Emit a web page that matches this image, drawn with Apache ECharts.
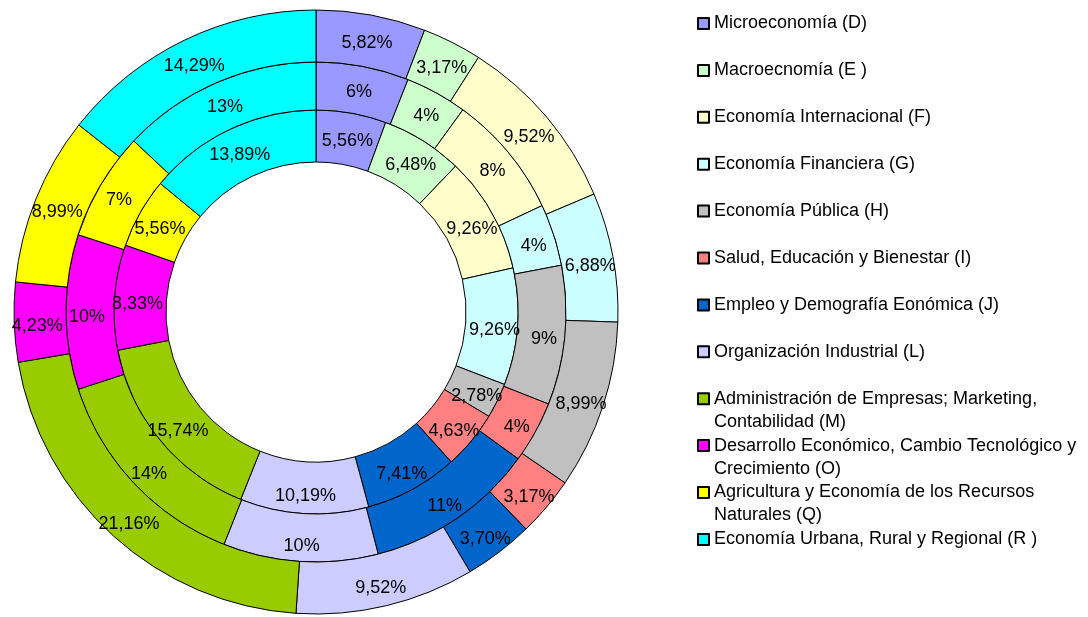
<!DOCTYPE html>
<html>
<head>
<meta charset="utf-8">
<script src="https://cdn.jsdelivr.net/npm/echarts@6/dist/echarts.min.js"></script>
<style>
  html, body { margin: 0; padding: 0; background: #fff; }
  #chart { width: 1088px; height: 617px; }
</style>
</head>
<body>
<div id="chart"></div>
<script>
// categorias (orden de las porciones, en sentido horario desde arriba)
const categories = [
  'Microeconomía (D)',
  'Macroecnomía (E )',
  'Economía Internacional (F)',
  'Economía Financiera (G)',
  'Economía Pública (H)',
  'Salud, Educación y Bienestar (I)',
  'Empleo y Demografía Eonómica (J)',
  'Organización Industrial (L)',
  'Administración de Empresas; Marketing, Contabilidad (M)',
  'Desarrollo Económico, Cambio Tecnológico y Crecimiento (O)',
  'Agricultura y Economía de los Recursos Naturales (Q)',
  'Economía Urbana, Rural y Regional (R )'
];
// texto de la leyenda: primera y segunda linea
const legendLine1 = [
  'Microeconomía (D)',
  'Macroecnomía (E )',
  'Economía Internacional (F)',
  'Economía Financiera (G)',
  'Economía Pública (H)',
  'Salud, Educación y Bienestar (I)',
  'Empleo y Demografía Eonómica (J)',
  'Organización Industrial (L)',
  'Administración de Empresas; Marketing,',
  'Desarrollo Económico, Cambio Tecnológico y',
  'Agricultura y Economía de los Recursos',
  'Economía Urbana, Rural y Regional (R )'
];
const legendLine2 = ['', '', '', '', '', '', '', '',
  'Contabilidad (M)', 'Crecimiento (O)', 'Naturales (Q)', ''];

const innerValues  = [5.56, 6.48, 9.26, 9.26, 2.78, 4.63, 7.41, 10.19, 15.74, 8.33, 5.56, 13.89];
const middleValues = [6, 4, 8, 4, 9, 4, 11, 10, 14, 10, 7, 13];
const outerValues  = [5.82, 3.17, 9.52, 6.88, 8.99, 3.17, 3.70, 9.52, 21.16, 4.23, 8.99, 14.29];
const colors = ['#9999FF', '#CCFFCC', '#FFFFCC', '#CCFFFF', '#C0C0C0', '#FF8080',
                '#0066CC', '#CCCCFF', '#99CC00', '#FF00FF', '#FFFF00', '#00FFFF'];

const FONT = '"Liberation Sans", Arial, sans-serif';
const LEG_Y0 = 22, LEG_STEP = 46.9;

function ring(values, radius, decimals) {
  return {
    type: 'pie',
    center: [316, 312],
    radius: radius,
    startAngle: 90,
    clockwise: true,
    silent: true,
    itemStyle: { borderColor: '#000', borderWidth: 1 },
    label: {
      show: true,
      position: 'inside',
      offset: [0, 5],
      color: '#000',
      fontFamily: FONT,
      fontSize: 18,
      formatter: p => p.value.toFixed(decimals).replace('.', ',') + '%'
    },
    labelLine: { show: false },
    data: values.map((v, i) => ({ name: categories[i], value: v, itemStyle: { color: colors[i] } }))
  };
}

// una leyenda por elemento para fijar la posicion de cada uno
const legends = categories.map((name, i) => ({
  left: 697,
  top: LEG_Y0 - 10 + i * LEG_STEP,
  padding: 0,
  icon: 'rect',
  itemWidth: 11,
  itemHeight: 11,
  selectedMode: false,
  data: [name],
  formatter: () => legendLine1[i],
  textStyle: { color: '#000', fontFamily: FONT, fontSize: 18, lineHeight: 23 }
}));

// segunda linea de los textos largos
const secondLines = [];
legendLine2.forEach((t, i) => {
  if (!t) return;
  secondLines.push({
    type: 'text',
    left: 714,
    top: LEG_Y0 - 10 + i * LEG_STEP + 23,
    style: { text: t, fill: '#000', font: '18px ' + FONT, lineHeight: 23 }
  });
});

const chart = echarts.init(document.getElementById('chart'));
chart.setOption({
  backgroundColor: '#fff',
  animation: false,
  legend: legends,
  graphic: secondLines,
  series: [
    ring(innerValues, [150, 202], 2),
    ring(middleValues, [202, 250], 0),
    ring(outerValues, [250, 302], 2)
  ]
});
</script>
</body>
</html>
